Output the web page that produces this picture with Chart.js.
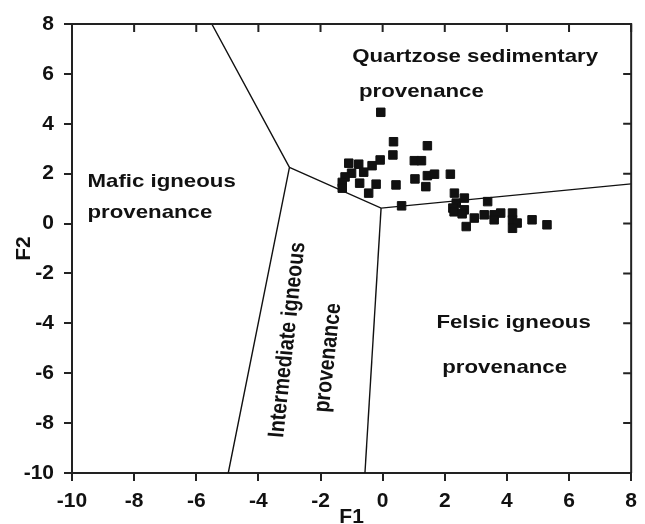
<!DOCTYPE html>
<html>
<head>
<meta charset="utf-8">
<script src="https://cdn.jsdelivr.net/npm/chart.js@4"></script>
<style>
html, body { margin: 0; padding: 0; background: #fff; }
</style>
</head>
<body>
<canvas id="scatterChart" width="645" height="524"></canvas>
<script>
var tickValues = [-10, -8, -6, -4, -2, 0, 2, 4, 6, 8];

var f1 = [-0.06, 0.35, 1.44, 0.33, -1.09, -0.77, -0.08, -0.34, 1.02, 1.25,
  -0.61, -1.0, -1.21, -1.30, -1.30, -0.74, -0.21, -0.45, 0.43, 1.04,
  1.44, 1.67, 2.18, 1.39, 0.61, 2.31, 2.37, 2.63, 2.26, 2.63,
  3.38, 2.95, 3.27, 3.59, 3.80, 3.59, 4.18, 4.18, 4.33, 4.18,
  2.69, 4.81, 5.29, 2.30, 2.56];
var f2 = [4.46, 3.28, 3.12, 2.75, 2.42, 2.38, 2.55, 2.32, 2.52, 2.52,
  2.06, 2.02, 1.87, 1.65, 1.42, 1.62, 1.58, 1.22, 1.55, 1.79,
  1.92, 1.98, 1.98, 1.48, 0.71, 1.22, 0.82, 1.02, 0.62, 0.55,
  0.88, 0.22, 0.35, 0.35, 0.42, 0.15, 0.42, 0.15, 0.02, -0.19,
  -0.12, 0.15, -0.05, 0.47, 0.39];

// field boundaries, each a polyline of [F1, F2]
var boundaryLines = [
  [[-5.5, 8], [-3.0, 2.25], [-4.97, -10]],
  [[-3.0, 2.25], [-0.05, 0.62], [8, 1.59]],
  [[-0.05, 0.62], [-0.57, -10]]
];

var fieldNames = [
  "Quartzose sedimentary", "provenance",
  "Mafic igneous", "provenance",
  "Felsic igneous", "provenance",
  "Intermediate igneous", "provenance"
];

// where each field name sits (F1, F2 of its anchor) and its tilt
var nameAnchors = [
  { x: -0.98, y: 6.68, rot: 0, align: "left", size: 19 },
  { x: -0.76, y: 5.28, rot: 0, align: "left", size: 19 },
  { x: -9.5, y: 1.67, rot: 0, align: "left", size: 19 },
  { x: -9.5, y: 0.43, rot: 0, align: "left", size: 19 },
  { x: 1.73, y: -3.98, rot: 0, align: "left", size: 19 },
  { x: 1.92, y: -5.78, rot: 0, align: "left", size: 19 },
  { x: -3.06, y: -4.66, rot: -84.6, align: "center", size: 19.5 },
  { x: -1.75, y: -5.38, rot: -84.6, align: "center", size: 19.5 }
];

var datasets = [];
boundaryLines.forEach(function (line) {
  datasets.push({
    data: line.map(function (p) { return { x: p[0], y: p[1] }; }),
    showLine: true,
    borderColor: "#111",
    borderWidth: 1.4,
    pointRadius: 0,
    fill: false
  });
});
datasets.push({
  data: f1.map(function (v, i) { return { x: v, y: f2[i] }; }),
  pointStyle: "rect",
  pointRadius: 6,
  backgroundColor: "#111",
  borderColor: "#111",
  borderWidth: 1
});

var framePlugin = {
  id: "frame",
  afterDraw: function (chart) {
    var c = chart.ctx, a = chart.chartArea;
    var xs = chart.scales.x, ys = chart.scales.y;
    c.save();
    c.strokeStyle = "#222";
    c.lineWidth = 2;
    c.beginPath();
    c.moveTo(a.left, a.top);
    c.lineTo(a.right, a.top);
    c.lineTo(a.right, a.bottom);
    c.stroke();
    // inward ticks on top and right
    c.beginPath();
    tickValues.forEach(function (v) {
      var px = xs.getPixelForValue(v);
      c.moveTo(px, a.top);
      c.lineTo(px, a.top + 8);
      var py = ys.getPixelForValue(v);
      c.moveTo(a.right, py);
      c.lineTo(a.right - 8, py);
    });
    c.stroke();

    // field names
    c.fillStyle = "#111";
    c.textBaseline = "middle";
    fieldNames.forEach(function (t, i) {
      var n = nameAnchors[i];
      c.save();
      c.font = "bold " + n.size + "px 'Liberation Sans', Arial, sans-serif";
      c.translate(xs.getPixelForValue(n.x), ys.getPixelForValue(n.y));
      c.scale(1.17, 1);
      c.rotate(n.rot * Math.PI / 180);
      c.textAlign = n.align;
      c.fillText(t, 0, 0);
      c.restore();
    });
    c.restore();
  }
};

var tickFont = { family: "'Liberation Sans', Arial, sans-serif", size: 21, weight: "bold" };

var ctx = document.getElementById("scatterChart").getContext("2d");
var myChart = new Chart(ctx, {
  type: "scatter",
  data: { datasets: datasets },
  options: {
    responsive: false,
    animation: false,
    layout: { padding: { top: 24, right: 8, left: 0, bottom: 0 } },
    plugins: { legend: { display: false }, tooltip: { enabled: false } },
    scales: {
      x: {
        min: -10,
        max: 8,
        afterBuildTicks: function (s) { s.ticks = tickValues.map(function (v) { return { value: v }; }); },
        afterFit: function (s) { s.height = 51; },
        border: { color: "#222", width: 2 },
        grid: { drawOnChartArea: false, drawTicks: true, tickLength: 8, color: "#222", lineWidth: 2 },
        ticks: { color: "#111", font: tickFont, padding: 8, maxRotation: 0 },
        title: { display: true, text: "F1", color: "#111", font: { family: tickFont.family, size: 21, weight: "bold", lineHeight: 1 }, padding: { top: 0, bottom: -4 } }
      },
      y: {
        min: -10,
        max: 8,
        afterBuildTicks: function (s) { s.ticks = tickValues.map(function (v) { return { value: v }; }); },
        afterFit: function (s) { s.width = 72; },
        border: { color: "#222", width: 2 },
        grid: { drawOnChartArea: false, drawTicks: true, tickLength: 8, color: "#222", lineWidth: 2 },
        ticks: { color: "#111", font: tickFont, padding: 10 },
        title: { display: true, text: "F2", color: "#111", font: { family: tickFont.family, size: 21, weight: "bold", lineHeight: 1 }, padding: { top: 14, bottom: 0 } }
      }
    }
  },
  plugins: [framePlugin]
});
</script>
</body>
</html>
